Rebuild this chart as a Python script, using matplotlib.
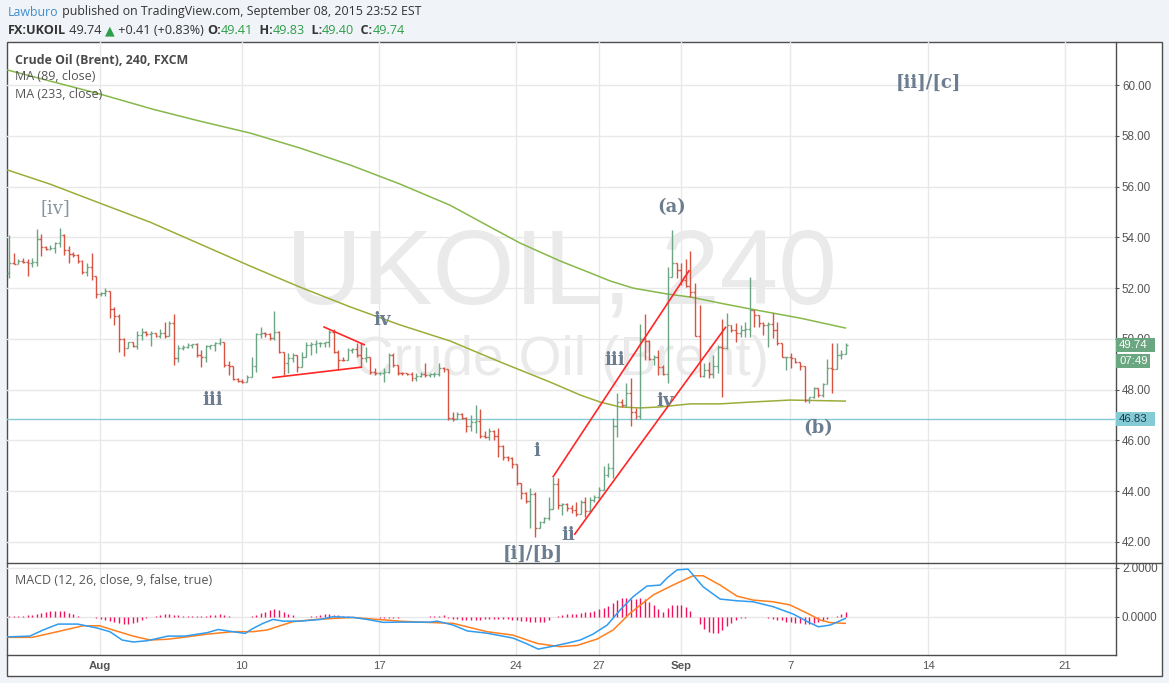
import numpy as np
import matplotlib
matplotlib.use('Agg')
import matplotlib.pyplot as plt
from matplotlib.patches import Rectangle
from matplotlib.lines import Line2D

W, H = 1169, 683

# ---------------- data (4h bars, index = bar number) ----------------
first_open = 52.60
highs = [54.09,53.40,53.13,53.20,53.13,53.17,54.33,54.14,53.66,53.70,53.83,54.35,54.12,53.66,53.44,53.34,53.11,53.00,53.37,52.48,
         51.86,51.99,51.90,51.27,50.98,50.02,49.89,49.89,50.33,50.42,50.30,50.30,50.25,50.38,50.65,50.70,50.98,49.76,49.76,49.82,
         49.79,49.82,49.56,49.76,49.76,49.89,50.05,49.89,49.14,48.88,48.45,48.41,48.58,49.30,50.22,50.48,50.28,50.22,51.11,50.32,
         49.50,49.43,49.43,49.33,49.50,49.89,49.89,49.96,49.89,49.89,50.35,50.38,49.56,49.30,49.63,49.63,49.82,49.82,49.69,49.30,
         48.84,48.71,48.84,49.46,49.43,48.97,48.71,48.67,48.71,48.64,48.71,49.06,48.64,48.71,49.04,48.91,48.71,47.13,47.13,47.07,
         46.94,47.00,47.40,47.23,46.39,46.48,46.41,46.48,45.82,45.39,45.36,45.07,44.34,43.98,44.14,43.95,42.84,43.00,43.76,44.55,
         44.50,43.52,43.52,43.46,43.59,43.66,43.76,43.76,43.85,44.18,44.99,45.10,46.87,47.86,47.62,48.28,48.45,47.27,50.59,50.98,
         49.96,49.37,49.56,48.97,52.85,54.31,53.00,52.98,53.13,53.46,52.19,51.33,49.04,49.10,49.37,49.76,50.80,51.01,50.55,50.61,
         50.55,50.68,52.45,51.14,50.94,50.68,50.68,51.01,50.68,49.83,49.30,49.43,49.24,49.10,48.94,47.73,48.12,48.06,48.25,49.20,
         49.83,49.83,49.57,49.83]
lows = [52.41,52.94,52.95,53.00,52.49,52.82,52.87,53.27,53.50,53.50,53.37,53.63,53.30,53.00,53.24,52.98,52.54,52.48,52.32,51.60,
        51.69,51.69,50.84,50.55,49.50,49.34,49.63,49.67,49.59,49.96,50.10,49.72,50.09,50.02,50.02,50.22,48.97,49.10,49.56,49.63,
        49.63,49.30,48.88,49.10,49.59,49.53,49.76,48.91,48.58,48.38,48.32,48.25,48.32,48.49,48.71,50.02,50.09,49.96,49.96,49.43,
        48.58,48.67,49.10,48.71,48.97,49.37,49.37,49.43,49.69,49.69,49.69,49.43,48.78,49.13,49.37,49.43,49.30,48.91,49.10,48.62,
        48.58,48.58,48.32,48.64,48.91,48.58,48.58,48.56,48.36,48.36,48.49,48.49,48.49,48.49,48.54,48.71,46.81,46.78,46.83,46.83,
        46.35,46.39,46.31,46.08,46.08,46.02,46.02,45.36,45.23,45.20,44.90,44.25,43.68,43.55,42.54,42.21,42.54,42.74,42.87,43.39,
        43.29,43.07,43.20,43.13,43.03,43.24,43.00,43.26,43.59,43.66,44.05,44.57,44.51,46.15,47.33,47.33,46.57,46.83,46.83,49.17,
        49.17,48.97,48.58,48.58,48.25,52.45,52.39,52.12,52.06,51.66,50.10,48.51,48.51,48.45,48.45,48.64,47.72,49.60,50.28,49.89,
        50.09,50.09,50.09,50.48,50.48,50.15,49.70,50.02,49.76,49.28,48.78,48.84,49.04,48.78,47.53,47.49,47.66,47.73,47.73,48.22,
        47.88,48.84,49.20,49.40]
closes = [53.00,52.96,53.07,53.04,52.98,53.02,53.92,53.63,53.54,53.57,53.76,54.09,53.50,53.34,53.30,53.08,52.65,52.82,52.48,51.76,
          51.80,51.89,51.18,50.90,50.01,49.64,49.89,49.72,50.15,50.28,50.20,50.23,50.12,50.22,50.10,50.61,49.23,49.63,49.69,49.76,
          49.78,49.37,49.30,49.72,49.75,49.82,49.89,48.97,48.93,48.41,48.36,48.32,48.49,48.93,50.20,50.25,50.20,50.02,50.28,49.50,
          49.04,49.23,49.37,48.88,49.30,49.76,49.80,49.83,49.84,49.86,50.28,49.50,49.17,49.15,49.56,49.59,49.37,49.23,49.28,48.71,
          48.64,48.67,48.71,49.37,48.97,48.67,48.64,48.62,48.45,48.54,48.62,48.58,48.60,48.62,48.84,48.80,46.87,46.83,47.04,46.87,
          46.57,46.74,46.76,46.18,46.15,46.39,46.18,45.78,45.34,45.30,45.07,44.34,43.92,43.60,43.90,42.54,42.80,42.95,43.30,44.30,
          43.45,43.50,43.33,43.24,43.10,43.59,43.20,43.66,43.79,44.05,44.64,44.90,46.55,47.50,47.38,47.86,47.13,46.96,50.00,49.90,
          49.20,49.30,48.91,48.62,52.45,52.98,52.71,52.32,52.10,51.85,50.12,48.55,48.77,48.60,48.95,49.70,49.65,50.55,50.35,50.25,
          50.35,50.40,51.14,50.94,50.61,50.55,50.58,50.35,49.83,49.28,49.30,49.24,49.10,48.94,47.60,47.70,48.06,47.79,48.22,48.84,
          48.80,49.37,49.41,49.74]

# moving averages (at these bars)
ma89_x = [-0.3, 8.9, 19.8, 30.8, 41.7, 52.7, 63.6, 74.6, 85.5, 96.4, 107.4, 118.3, 124.9, 129.3, 133.6, 138.0, 142.4, 149.0, 155.5, 162.1, 170.8, 182.9]
ma89_v = [56.65, 56.10, 55.35, 54.60, 53.74, 52.87, 52.04, 51.26, 50.55, 49.92, 49.09, 48.30, 47.79, 47.51, 47.32, 47.28, 47.32, 47.44, 47.44, 47.51, 47.59, 47.55]
ma233_x = [-0.3, 8.9, 19.8, 31.4, 41.7, 52.7, 63.6, 74.6, 85.5, 96.4, 105.2, 111.7, 120.5, 127.1, 131.5, 136.5, 143.9, 149.0, 155.5, 162.1, 173.0, 182.9]
ma233_v = [60.59, 60.16, 59.65, 59.05, 58.58, 58.11, 57.52, 56.85, 56.10, 55.27, 54.41, 53.78, 53.07, 52.60, 52.28, 52.00, 51.77, 51.65, 51.41, 51.18, 50.82, 50.43]

# MACD
macd_x = [-0.3, 4.5, 7.4, 10.7, 15.0, 19.2, 22.0, 24.7, 27.1, 30.1, 34.7, 38.4, 43.3, 45.7, 48.9, 51.6, 53.3, 55.5, 57.7, 59.9,
          63.6, 68.0, 70.8, 75.2, 78.3, 81.8, 85.5, 92.1, 93.6, 97.1, 100.2, 104.5, 110.2, 113.3, 115.7, 119.0, 122.0, 124.9, 127.7,
          130.8, 133.6, 136.5, 139.5, 142.4, 143.9, 146.1, 148.5, 151.8, 155.5, 159.2, 162.7, 167.1, 171.5, 174.6, 177.0, 179.6, 182.9]
macd_v = [-0.82, -0.79, -0.54, -0.30, -0.30, -0.46, -0.61, -0.95, -1.03, -0.98, -0.79, -0.79, -0.65, -0.52, -0.61, -0.68, -0.48, -0.27, -0.11, -0.18,
          -0.18, -0.11, 0.00, -0.03, -0.11, -0.23, -0.22, -0.22, -0.18, -0.34, -0.58, -0.67, -0.87, -1.11, -1.32, -1.20, -1.08, -0.95, -0.71,
          -0.34, 0.27, 0.82, 1.25, 1.29, 1.58, 1.91, 1.94, 1.22, 0.72, 0.65, 0.61, 0.41, 0.11, -0.20, -0.41, -0.34, -0.07]
sig_x = [-0.3, 5.0, 9.6, 16.1, 19.8, 22.7, 27.1, 30.8, 34.5, 38.9, 43.3, 48.9, 53.3, 56.4, 59.2, 62.1, 67.3, 70.8, 75.2, 80.5,
         85.5, 89.9, 97.1, 104.5, 110.2, 115.5, 120.5, 124.2, 128.6, 132.1, 135.8, 140.9, 145.2, 149.6, 151.8, 155.5, 159.2, 162.7,
         167.1, 170.8, 174.6, 177.4, 179.6, 182.9]
sig_v = [-0.84, -0.84, -0.65, -0.37, -0.37, -0.54, -0.79, -0.95, -0.92, -0.82, -0.71, -0.61, -0.61, -0.54, -0.37, -0.20, -0.11, -0.07, -0.03, -0.11,
         -0.18, -0.22, -0.27, -0.61, -0.75, -1.09, -1.22, -1.17, -0.91, -0.54, 0.14, 0.89, 1.29, 1.67, 1.67, 1.29, 0.84, 0.68,
         0.61, 0.48, 0.14, -0.13, -0.24, -0.27]
hist = [0.02,0.03,0.04,0.05,0.06,0.08,0.12,0.16,0.20,0.22,0.23,0.23,0.22,0.16,0.10,0.05,
        0.0,-0.01,-0.02,
        -0.05,-0.10,-0.13,-0.17,-0.20,-0.25,-0.28,-0.30,-0.27,-0.20,-0.12,-0.06,
        0.0,0.02,
        0.06,0.10,0.13,0.09,0.07,0.05,0.04,0.04,0.03,0.04,0.05,0.07,0.09,0.10,0.08,0.05,
        0.0,-0.03,-0.03,-0.02,
        0.02,0.07,0.14,0.20,0.26,0.31,0.28,0.20,0.13,0.06,0.0,
        0.0,0.0,0.02,
        0.04,0.07,0.10,0.12,0.09,0.06,0.04,0.03,
        0.0,0.0,0.0,0.0,-0.01,
        -0.03,-0.05,-0.06,-0.06,-0.05,-0.04,-0.03,-0.02,-0.01,
        0.0,0.0,0.0,0.01,0.02,
        0.04,0.07,
        -0.05,-0.08,-0.10,-0.12,-0.15,-0.15,-0.14,-0.13,-0.11,-0.10,-0.09,-0.10,-0.10,-0.11,-0.12,-0.14,-0.16,-0.18,-0.20,-0.22,-0.23,-0.20,-0.12,-0.02,
        0.05,0.08,0.10,0.10,0.12,0.15,0.18,0.21,0.25,0.30,0.35,0.42,0.55,0.68,0.76,0.78,0.73,0.72,0.75,0.73,0.60,0.47,0.30,0.20,0.36,0.48,0.48,0.47,0.41,0.25,
        0.0,-0.30,-0.50,-0.64,-0.67,-0.65,-0.53,-0.38,-0.25,-0.13,-0.07,
        -0.05,0.0,0.0,0.0,
        -0.02,-0.05,-0.08,-0.12,-0.15,-0.20,-0.22,-0.24,-0.27,-0.30,-0.30,-0.27,-0.22,-0.16,-0.10,-0.03,0.05,0.13,0.20]

tick_pos = [19.8, 50.9, 80.9, 110.9, 129, 147, 170.9, 201, 231]
tick_labels = ['Aug', '10', '17', '24', '27', 'Sep', '7', '14', '21']
bold_ticks = ['Aug', 'Sep']
price_ticks = [42, 44, 46, 48, 50, 52, 54, 56, 58, 60]
macd_ticks = [0.0, 2.0]

hline_price = 46.83
last_price = 49.74
countdown = '07:49'

# wave labels: (text, bar, price, bold)
wave_labels = [('[iv]', 10.0, 55.16, False), ('iii', 44.6, 47.59, True), ('iv', 81.5, 50.74, True),
               ('[i]/[b]', 114.6, 41.53, True), ('i', 115.3, 45.58, True), ('ii', 122.3, 42.28, True),
               ('iii', 132.5, 49.17, True), ('iv', 143.5, 47.55, True), ('(a)', 145.0, 55.20, True),
               ('(b)', 176.9, 46.49, True), ('[ii]/[c]', 201.0, 60.08, True)]
# trend lines: ((bar0, price0), (bar1, price1))
trend_lines = [((57.5, 48.47), (77.2, 48.89)), ((68.7, 50.48), (77.8, 49.76)),
               ((118.9, 44.55), (148.8, 52.71)), ((123.6, 42.28), (156.8, 50.48))]

assert len(highs) == len(lows) == len(closes) == len(hist) == 184

# ---------------- figure ----------------
UP, DN = '#6ba583', '#d75442'
GRID = '#e8e8e8'
TXT = '#555555'

fig = plt.figure(figsize=(W / 100, H / 100), dpi=100, facecolor='#f0f3f7')

def fx(px):
    return px / W

def fy(py):
    return 1 - py / H

# outer white frame
fig.add_artist(Rectangle((fx(7), fy(676)), (1162 - 7) / W, (676 - 41.7) / H, transform=fig.transFigure,
                         facecolor='white', edgecolor='#4d4d4d', lw=1.0, zorder=0))

ax = fig.add_axes([fx(7), fy(562.5), (1115 - 7) / W, (562.5 - 41.7) / H])
mac = fig.add_axes([fx(7), fy(655), (1115 - 7) / W, (655 - 563) / H])
for a in (ax, mac):
    a.set_facecolor('none')
    for s in a.spines.values():
        s.set_visible(False)
    a.set_xlim(-0.5, 241.9)
    a.set_xticks(tick_pos)
    a.grid(True, color=GRID, lw=1.0, zorder=0)
    a.set_axisbelow(True)

ax.set_ylim(41.19, 61.71)
ax.set_yticks(price_ticks)
ax.set_yticklabels(['%.2f' % v for v in price_ticks])
ax.yaxis.tick_right()
ax.tick_params(axis='y', length=3, width=0.8, color=TXT, labelsize=8.4, labelcolor=TXT, pad=2)
ax.tick_params(axis='x', length=0, labelbottom=False)
for t in ax.get_yticklabels():
    t.set_family('Liberation Sans')

mac.set_ylim(-1.56, 2.19)
mac.set_yticks(macd_ticks)
mac.set_yticklabels(['%.4f' % v for v in macd_ticks])
mac.yaxis.tick_right()
mac.tick_params(axis='y', length=3, width=0.8, color=TXT, labelsize=8.4, labelcolor=TXT, pad=2)
mac.set_xticklabels(tick_labels)
mac.tick_params(axis='x', length=0, labelsize=8.2, labelcolor=TXT, pad=4)
for t in mac.get_xticklabels() + mac.get_yticklabels():
    t.set_family('Liberation Sans')
for t in mac.get_xticklabels():
    if t.get_text() in bold_ticks:
        t.set_fontweight('bold')

# watermark
ax.text(0.5, 0.55, 'UKOIL, 240', transform=ax.transAxes, ha='center', va='center', fontsize=76,
        color='#eaeaea', family='Liberation Sans', zorder=0.6)
ax.text(0.5, 0.386, 'Crude Oil (Brent)', transform=ax.transAxes, ha='center', va='center', fontsize=39.5,
        color='#eaeaea', family='Liberation Sans', zorder=0.6)

# OHLC bars
x = np.arange(len(closes))
c = np.array(closes)
o = np.r_[first_open, c[:-1]]
hi = np.maximum.reduce([np.array(highs), o, c])
lo = np.minimum.reduce([np.array(lows), o, c])
cols = np.where(c >= o, UP, DN)
tw = 0.42
ax.vlines(x, lo, hi, colors=cols, lw=1.0, zorder=3)
ax.hlines(o, x - tw, x, colors=cols, lw=1.0, zorder=3)
ax.hlines(c, x, x + tw, colors=cols, lw=1.0, zorder=3)

# moving averages
ax.plot(ma233_x, ma233_v, color='#86b84a', lw=1.1, zorder=2)
ax.plot(ma89_x, ma89_v, color='#9dac38', lw=1.1, zorder=2)

# horizontal line
ax.axhline(hline_price, color='#85c9d4', lw=1.0, zorder=2)

# trend lines
for (x0, y0), (x1, y1) in trend_lines:
    ax.plot([x0, x1], [y0, y1], color='#ff2626', lw=1.2, zorder=4, solid_capstyle='butt')

# wave labels
for txt, bx, py, b in wave_labels:
    ax.text(bx, py, txt, ha='center', va='center', family='DejaVu Serif',
            fontweight='bold' if b else 'normal', fontsize=13,
            color='#6d7d90' if b else '#8894a2', zorder=5)

# legend texts
fig.text(fx(15), fy(60), 'Crude Oil (Brent), 240, FXCM', family='Open Sans', fontweight='bold',
         fontsize=8.9, color='#4a4a4a', va='center', ha='left')
fig.text(fx(15), fy(77), 'MA (89, close)', family='Open Sans', fontsize=9, color=TXT, va='center', ha='left')
fig.text(fx(15), fy(95), 'MA (233, close)', family='Open Sans', fontsize=9, color=TXT, va='center', ha='left')
fig.text(fx(15), fy(580), 'MACD (12, 26, close, 9, false, true)', family='Open Sans', fontsize=9,
         color=TXT, va='center', ha='left')

# MACD panel
mac.vlines(x, 0, hist, colors='#f0125f', lw=1.0, zorder=2)
mac.plot(sig_x, sig_v, color='#ff7f1e', lw=1.1, zorder=3)
mac.plot(macd_x, macd_v, color='#2f9cf0', lw=1.1, zorder=4)

# panel lines
for (xa, ya, xb, yb) in [(1115.5, 41.7, 1115.5, 655), (7, 563, 1162, 563), (7, 655, 1115.5, 655)]:
    fig.add_artist(Line2D([fx(xa), fx(xb)], [fy(ya), fy(yb)], transform=fig.transFigure,
                          color='#4d4d4d', lw=1.0, zorder=6))

# price axis boxes
def price_to_py(p):
    lo_, hi_ = ax.get_ylim()
    return 41.7 + (hi_ - p) / (hi_ - lo_) * (562.5 - 41.7)

def box(py_c, x0, x1, h, fc, text, tc):
    fig.add_artist(Rectangle((fx(x0), fy(py_c + h / 2)), (x1 - x0) / W, h / H, transform=fig.transFigure,
                             facecolor=fc, edgecolor='none', zorder=7))
    fig.text(fx(x0 + 3), fy(py_c), text, ha='left', va='center', fontsize=8.2, color=tc,
             family='Liberation Sans', zorder=8)

py_last = price_to_py(last_price)
box(py_last, 1116, 1155, 14, '#6aa67f', '%.2f' % last_price, 'white')
box(py_last + 16, 1116, 1150, 14, '#6aa67f', countdown, 'white')
box(price_to_py(hline_price), 1116, 1155, 14, '#85cbd6', '%.2f' % hline_price, '#1d3c4a')

# header
renderer = fig.canvas.get_renderer()

def seq_text(x0, py, parts, fs):
    xp = x0
    for s, col, wt, fam in parts:
        t = fig.text(fx(xp), fy(py), s, color=col, fontweight=wt, family=fam, fontsize=fs,
                     va='center', ha='left')
        bb = t.get_window_extent(renderer)
        xp += bb.width

OS = 'Open Sans'
G = '#2e9e4a'
D = '#333333'
seq_text(8, 12, [('Lawburo', '#3d8fd1', 'normal', OS),
                 (' published on TradingView.com, September 08, 2015 23:52 EST', D, 'normal', OS)], 8.9)
seq_text(8, 31, [('FX:UKOIL', D, 'bold', OS), (' 49.74 ', D, 'normal', OS), ('\u25b2', G, 'normal', 'DejaVu Sans'),
                 (' +0.41 (+0.83%) ', D, 'normal', OS), ('O:', D, 'bold', OS), ('49.41', G, 'normal', OS),
                 ('  H:', D, 'bold', OS), ('49.83', G, 'normal', OS), ('  L:', D, 'bold', OS),
                 ('49.40', G, 'normal', OS), ('  C:', D, 'bold', OS), ('49.74', G, 'normal', OS)], 9.1)

fig.savefig('out.png', dpi=100, facecolor=fig.get_facecolor())
